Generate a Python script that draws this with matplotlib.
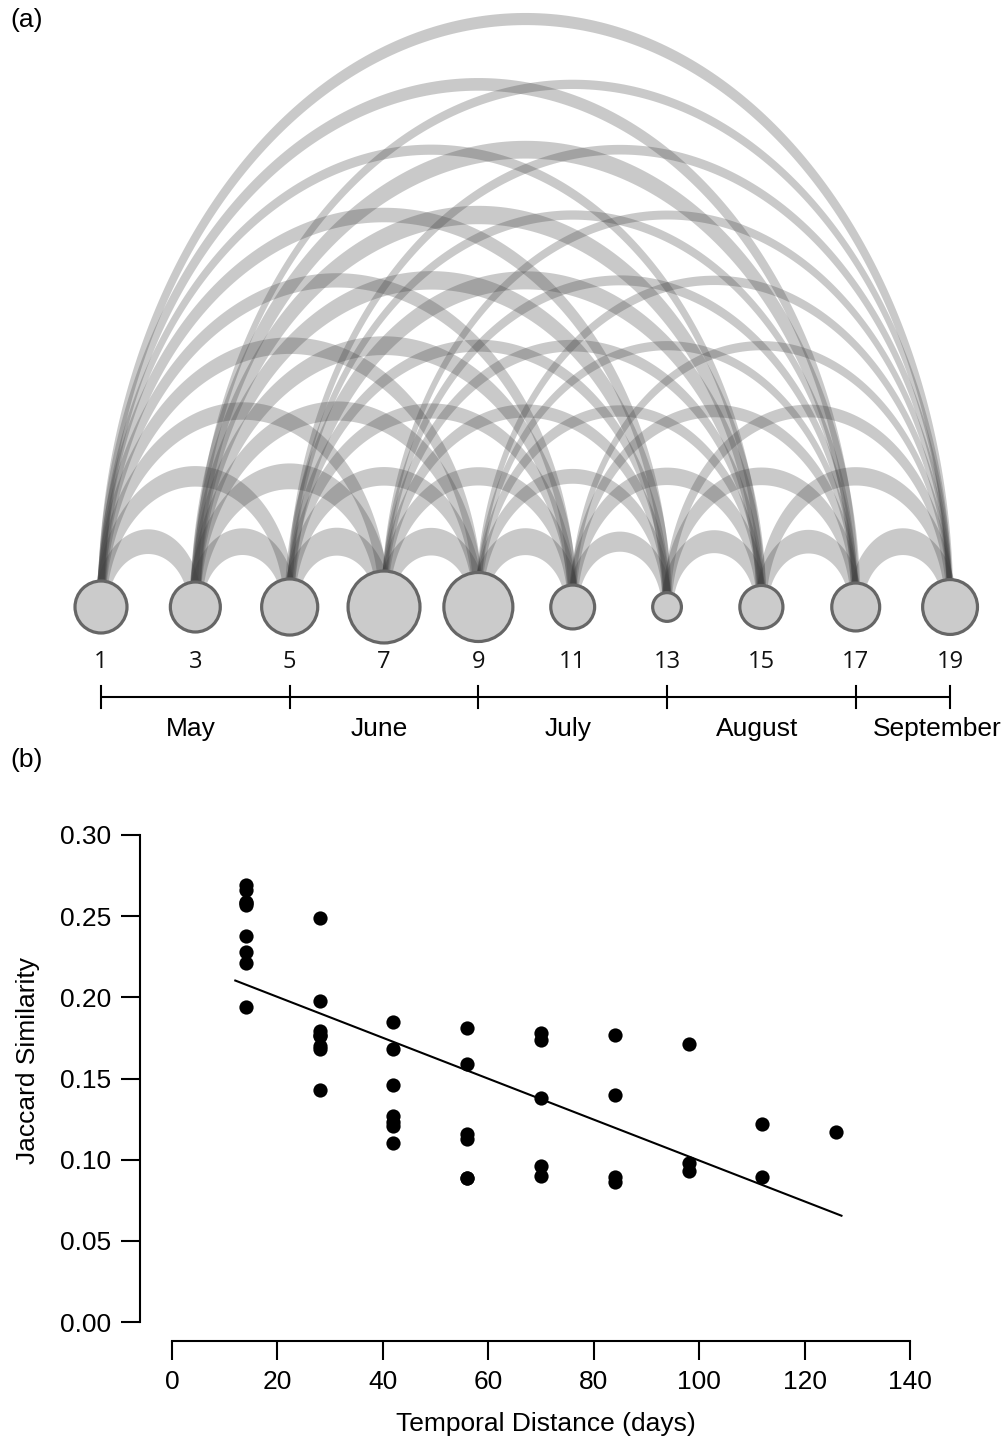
import numpy as np
import matplotlib
matplotlib.use("Agg")
import matplotlib.pyplot as plt
from matplotlib.patches import Polygon, Circle

plt.rcParams['font.family'] = ['Liberation Sans', 'DejaVu Sans']

# ---------------- data ----------------
sample_ids = [1, 3, 5, 7, 9, 11, 13, 15, 17, 19]
node_richness = [84, 78, 97, 156, 144, 61, 28, 59, 72, 93]
month_names = ["May", "June", "July", "August", "September"]
month_bounds = [1, 5, 9, 13, 17, 19]
days_per_step = 14

# Jaccard similarity for pairs separated by k sampling steps (k = 1..9), in pair order
sim_lag1 = [0.238, 0.257, 0.269, 0.266, 0.259, 0.194, 0.221, 0.228, 0.258]
sim_lag2 = [0.198, 0.249, 0.179, 0.176, 0.143, 0.168, 0.170, 0.177]
sim_lag3 = [0.168, 0.185, 0.146, 0.127, 0.110, 0.121, 0.123]
sim_lag4 = [0.159, 0.181, 0.116, 0.113, 0.089, 0.089]
sim_lag5 = [0.138, 0.178, 0.174, 0.096, 0.090]
sim_lag6 = [0.140, 0.177, 0.0895, 0.086]
sim_lag7 = [0.098, 0.171, 0.093]
sim_lag8 = [0.122, 0.0895]
sim_lag9 = [0.117]
sim_by_lag = [sim_lag1, sim_lag2, sim_lag3, sim_lag4, sim_lag5,
              sim_lag6, sim_lag7, sim_lag8, sim_lag9]

x_ticks_b = [0, 20, 40, 60, 80, 100, 120, 140]
y_ticks_b = [0.00, 0.05, 0.10, 0.15, 0.20, 0.25, 0.30]

# ---------------- figure ----------------
W, H = 1008, 1443
fig = plt.figure(figsize=(W / 100, H / 100), dpi=100)

# ---- panel (a): arc diagram ----
PX = 47.17            # pixels per sample unit
top_h = 760
ax = fig.add_axes([0, 1 - top_h / H, 1, top_h / H])
x0_px, y0_px = 101, 607
ax.set_xlim(sample_ids[0] - x0_px / PX, sample_ids[0] + (W - x0_px) / PX)
ax.set_ylim(-(top_h - y0_px) / PX, y0_px / PX)
ax.axis('off')

ratio = 1.385
k_thick = 2.2          # vertical thickness (units) per unit similarity
t = np.linspace(0, np.pi, 240)
for lag, sims in enumerate(sim_by_lag, start=1):
    for i, s in enumerate(sims):
        xa, xb = sample_ids[i], sample_ids[i + lag]
        cx, a = (xa + xb) / 2, (xb - xa) / 2
        b = ratio * a
        tv = k_thick * s
        th = 0.55 * tv
        outer = np.column_stack([cx + (a + th / 2) * np.cos(t), (b + tv / 2) * np.sin(t)])
        inner = np.column_stack([cx + (a - th / 2) * np.cos(t[::-1]), (b - tv / 2) * np.sin(t[::-1])])
        ax.add_patch(Polygon(np.vstack([outer, inner]), closed=True,
                             facecolor='#404040', alpha=0.28, edgecolor='none', zorder=1))

for sx, v in zip(sample_ids, node_richness):
    r = (3.0 * np.sqrt(v) - 1.5) / PX
    ax.add_patch(Circle((sx, 0), r, facecolor='#cbcbcb', edgecolor='#666666',
                        linewidth=2.3, zorder=3))
    ax.text(sx, -(668 - y0_px) / PX, str(sx), ha='center', va='baseline',
            fontsize=17, family=['Open Sans', 'DejaVu Sans'], color='#111111')

y_line = -(697 - y0_px) / PX
ax.plot([month_bounds[0], month_bounds[-1]], [y_line, y_line], color='black', lw=1.5,
        solid_capstyle='butt')
tick_half = 11 / PX
for mb in month_bounds:
    ax.plot([mb, mb], [y_line - tick_half, y_line + tick_half], color='black', lw=1.5)
y_month = -(736 - y0_px) / PX
for k, name in enumerate(month_names):
    mx = (month_bounds[k] + month_bounds[k + 1]) / 2 - 0.1
    if k == len(month_names) - 1:
        mx += 0.82
    ax.text(mx, y_month, name, ha='center', va='baseline', fontsize=19)

fig.text(10 / W, 1 - 20 / H, '(a)', ha='left', va='center', fontsize=19)
fig.text(10 / W, 1 - 760 / H, '(b)', ha='left', va='center', fontsize=19)

# ---- panel (b): scatter ----
left_px, right_px, top_px, bot_px = 140.4, 910, 835, 1341
axb = fig.add_axes([left_px / W, 1 - bot_px / H, (right_px - left_px) / W, (bot_px - top_px) / H])
xs, ys = [], []
for lag, sims in enumerate(sim_by_lag, start=1):
    xs += [lag * days_per_step] * len(sims)
    ys += sims
xs, ys = np.array(xs, float), np.array(ys)
axb.scatter(xs, ys, s=105, color='black', zorder=3, linewidths=0)
slope, inter = np.polyfit(xs, ys, 1)
xl = np.array([xs.min() - 2, xs.max() + 1])
axb.plot(xl, inter + slope * xl, color='black', lw=1.5)

axb.set_xlim(-6, 140)
axb.set_ylim(-0.0117, 0.30)
axb.set_xticks(x_ticks_b)
axb.set_yticks(y_ticks_b)
axb.set_yticklabels([f"{v:.2f}" for v in y_ticks_b])
for sp in ['top', 'right']:
    axb.spines[sp].set_visible(False)
axb.spines['left'].set_bounds(0, 0.30)
axb.spines['bottom'].set_bounds(0, 140)
for sp in ['left', 'bottom']:
    axb.spines[sp].set_linewidth(1.5)
axb.tick_params(axis='both', length=14, width=1.5, labelsize=19, pad=7)
axb.set_xlabel('Temporal Distance (days)', fontsize=19)
axb.set_ylabel('Jaccard Similarity', fontsize=19)
axb.xaxis.set_label_coords((546 - left_px) / (right_px - left_px), (bot_px - 1412) / (bot_px - top_px))
axb.yaxis.set_label_coords((16 - left_px) / (right_px - left_px), (bot_px - 1060) / (bot_px - top_px))
axb.xaxis.label.set_va('top')
axb.yaxis.label.set_va('top')

fig.savefig('out.png', dpi=100)
